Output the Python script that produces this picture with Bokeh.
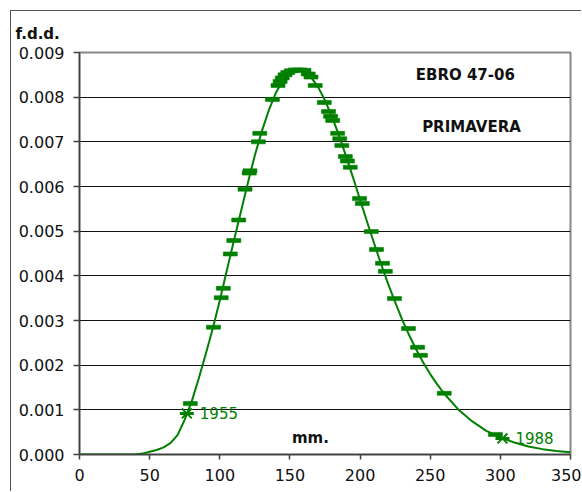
from bokeh.plotting import figure
from bokeh.models import Range1d, FixedTicker, NumeralTickFormatter, Label, ColumnDataSource, InlineStyleSheet
from bokeh.embed import file_html
from bokeh.resources import INLINE

# fitted density curve
curve_x = [0, 10, 20, 30, 40, 45, 50, 55, 60, 65, 70, 75, 80, 85, 90, 95, 100, 105, 110, 115,
           120, 125, 130, 135, 140, 145, 150, 155, 160, 165, 170, 175, 180, 185, 190, 195,
           200, 205, 210, 215, 220, 225, 230, 235, 240, 245, 250, 255, 260, 270, 280, 290,
           300, 310, 320, 330, 340, 350]
curve_y = [0, 0, 0, 0, 0, 0.00002, 0.00006, 0.0001, 0.00016, 0.00026, 0.00044, 0.00078, 0.00119,
           0.0017, 0.00225, 0.00282, 0.00345, 0.00412, 0.00478, 0.00543, 0.00608, 0.0067,
           0.00724, 0.00771, 0.0081, 0.00838, 0.00855, 0.00862, 0.00858, 0.00845, 0.00823,
           0.00793, 0.00756, 0.00714, 0.00668, 0.0062, 0.0057, 0.00521, 0.00473, 0.00426,
           0.00382, 0.00341, 0.00302, 0.00267, 0.00235, 0.00206, 0.0018, 0.00157, 0.00136,
           0.00101, 0.00074, 0.00053, 0.00038, 0.00027, 0.00018, 0.00012, 0.00008, 0.00005]

# observed values (dash markers)
obs_x = [79, 95.5, 101, 102.5, 107.5, 110, 113.5, 118, 121, 121.5, 127.5, 128.5, 137.5,
         141.5, 143, 144.5, 146.5, 148.5, 151, 154, 157, 160, 163, 165, 168,
         174.5, 177.5, 179, 180.5, 184, 185.5, 187, 189.5, 191, 193, 199.6, 201.6, 208,
         211.7, 216, 218, 224.5, 234.5, 241, 243, 260, 296.5]
obs_y = [0.00114, 0.00285, 0.00351, 0.00372, 0.00449, 0.00479, 0.00525, 0.00594, 0.0063,
         0.00635, 0.007, 0.00719, 0.00795, 0.00826, 0.00835, 0.00843, 0.0085, 0.00855,
         0.00859, 0.00861, 0.00861, 0.0086, 0.00852, 0.00845, 0.00826,
         0.00788, 0.00768, 0.00757, 0.00748, 0.00719, 0.00707, 0.00692, 0.00667, 0.00657,
         0.00643, 0.00573, 0.00562, 0.00499, 0.00459, 0.00428, 0.0041, 0.00349, 0.00282,
         0.0024, 0.00222, 0.00137, 0.00045]

# highlighted years
year_x = [76.5, 301.5]
year_y = [0.00092, 0.00036]
year_labels = ["1955", "1988"]

x_ticks = [0, 50, 100, 150, 200, 250, 300, 350]
y_ticks = [0.000, 0.001, 0.002, 0.003, 0.004, 0.005, 0.006, 0.007, 0.008, 0.009]

GREEN = "#008000"
FONT = "DejaVu Sans"

border_css = InlineStyleSheet(css=":host { border-top: 1px solid #555555; border-left: 1px solid #555555; }")

p = figure(width=571, height=481, output_backend="svg", toolbar_location=None,
           x_range=Range1d(0, 350), y_range=Range1d(0, 0.009),
           min_border_left=68, min_border_top=41, min_border_right=12, min_border_bottom=38,
           title="f.d.d.")
p.margin = (10, 0, 0, 10)
p.stylesheets = [border_css]

p.title.align = "left"
p.title.offset = -64
p.title.standoff = 20
p.title.text_line_height = 1.0
p.title.text_font = FONT
p.title.text_font_style = "bold"
p.title.text_font_size = "15px"
p.title.text_color = "#111111"

p.background_fill_color = "white"
p.border_fill_color = "white"
p.outline_line_color = "#888888"
p.outline_line_width = 2

p.xgrid.visible = False
p.ygrid.ticker = FixedTicker(ticks=y_ticks[1:])
p.ygrid.grid_line_color = "#111111"
p.ygrid.grid_line_width = 1

for ax in (p.xaxis[0], p.yaxis[0]):
    ax.axis_line_color = "#404040"
    ax.axis_line_width = 1.5
    ax.major_tick_line_color = "#404040"
    ax.major_tick_line_width = 1.5
    ax.minor_tick_line_color = None
    ax.major_label_text_font = FONT
    ax.major_label_text_font_size = "16px"
    ax.major_label_text_color = "#111111"

p.xaxis.ticker = FixedTicker(ticks=x_ticks)
p.xaxis.major_tick_in = 0
p.xaxis.major_tick_out = 5
p.xaxis.major_label_standoff = 9
p.yaxis.ticker = FixedTicker(ticks=y_ticks)
p.yaxis.formatter = NumeralTickFormatter(format="0.000")
p.yaxis.major_tick_in = 0
p.yaxis.major_tick_out = 6
p.yaxis.major_label_standoff = 9

p.line(curve_x, curve_y, line_color=GREEN, line_width=2)

src = ColumnDataSource(dict(x=obs_x, y=obs_y))
p.rect("x", "y", width=14, height=4, width_units="screen", height_units="screen",
       source=src, fill_color=GREEN, line_color=GREEN, line_alpha=0.6)

p.scatter(year_x, year_y, marker="x", size=14, line_color=GREEN, line_width=2)
p.rect(year_x, year_y, width=14, height=3, width_units="screen", height_units="screen",
       fill_color=GREEN, line_color=None)

for xv, yv, t in zip(year_x, year_y, year_labels):
    p.add_layout(Label(x=xv, y=yv, text=t, x_offset=13, y_offset=0,
                       text_baseline="middle", text_align="left", text_color=GREEN,
                       text_font=FONT, text_font_size="15px"))

p.add_layout(Label(x=275, y=0.00849, text="EBRO 47-06", text_align="center",
                   text_baseline="middle", text_font=FONT, text_font_style="bold",
                   text_font_size="15px", text_color="#111111"))
p.add_layout(Label(x=279.4, y=0.00734, text="PRIMAVERA", text_align="center",
                   text_baseline="middle", text_font=FONT, text_font_style="bold",
                   text_font_size="15px", text_color="#111111"))
p.add_layout(Label(x=164.6, y=0.00036, text="mm.", text_align="center",
                   text_baseline="middle", text_font=FONT, text_font_style="bold",
                   text_font_size="15px", text_color="#111111"))

open("out.html", "w").write(file_html(p, INLINE))
